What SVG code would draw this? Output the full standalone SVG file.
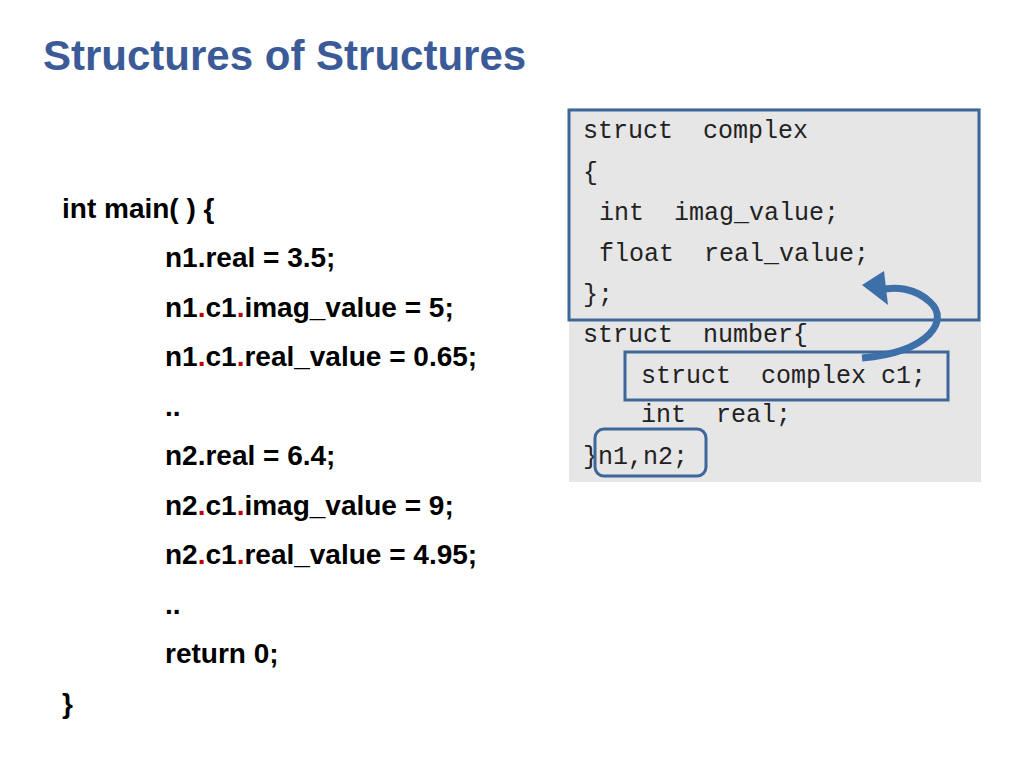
<svg xmlns="http://www.w3.org/2000/svg" width="1024" height="768" viewBox="0 0 1024 768">
<style>
.t{font-family:"Liberation Sans",Arial,sans-serif;font-weight:bold;font-size:28px;fill:#000}
.r{fill:#c00000}
.m{font-family:"Liberation Mono","DejaVu Sans Mono",monospace;font-size:25px;fill:#222}
.b{fill:none;stroke:#3d6699;stroke-width:3}
</style>
<rect width="1024" height="768" fill="#fff"/>
<text x="43" y="70" font-family="Liberation Sans,Arial,sans-serif" font-weight="bold" font-size="42" fill="#3a5a98">Structures of Structures</text>
<g id="code">
<text class="t" x="62" y="218">int main( ) {</text>
<text class="t" x="165" y="267">n1.real = 3.5;</text>
<text class="t" x="165" y="317">n1<tspan class="r">.</tspan>c1<tspan class="r">.</tspan>imag_value = 5;</text>
<text class="t" x="165" y="366">n1<tspan class="r">.</tspan>c1<tspan class="r">.</tspan>real_value = 0.65;</text>
<text class="t" x="165" y="416">..</text>
<text class="t" x="165" y="465">n2.real = 6.4;</text>
<text class="t" x="165" y="515">n2<tspan class="r">.</tspan>c1<tspan class="r">.</tspan>imag_value = 9;</text>
<text class="t" x="165" y="564">n2<tspan class="r">.</tspan>c1<tspan class="r">.</tspan>real_value = 4.95;</text>
<text class="t" x="165" y="614">..</text>
<text class="t" x="165" y="663">return 0;</text>
<text class="t" x="62" y="713">}</text>
</g>
<g id="structs">
<rect x="569" y="108" width="412" height="374" fill="#e6e6e6"/>
<text class="m" x="583" y="138" xml:space="preserve">struct  complex</text>
<text class="m" x="583" y="180">{</text>
<text class="m" x="599" y="220" xml:space="preserve">int  imag_value;</text>
<text class="m" x="599" y="261" xml:space="preserve">float  real_value;</text>
<text class="m" x="583" y="302">};</text>
<text class="m" x="583" y="342" xml:space="preserve">struct  number{</text>
<text class="m" x="641" y="383" xml:space="preserve">struct  complex c1;</text>
<text class="m" x="641" y="422" xml:space="preserve">int  real;</text>
<text class="m" x="583" y="464">}n1,n2;</text>
<rect class="b" x="569" y="110" width="410" height="210"/>
<rect class="b" x="625" y="352" width="323" height="48"/>
<rect class="b" x="595" y="429" width="111" height="47" rx="9"/>
</g>
<g id="connectors">
<path d="M862,358 C930,352 950,320 930,302 C915,288 895,286 880,290" fill="none" stroke="#3d6fa8" stroke-width="7"/>
<polygon points="862,285 884,271 888,305" fill="#3d6fa8"/>
</g>
</svg>
